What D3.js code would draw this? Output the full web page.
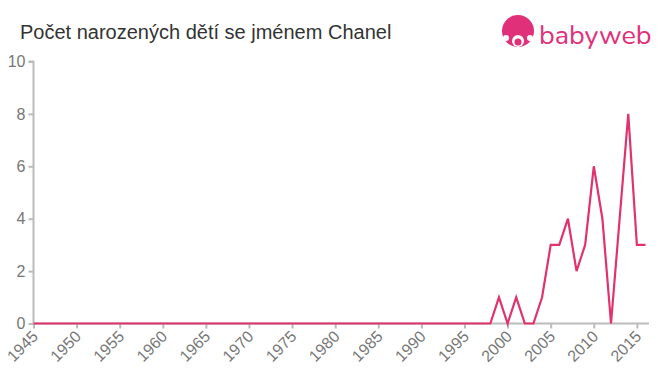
<!DOCTYPE html>
<html><head><meta charset="utf-8">
<script src="https://cdn.jsdelivr.net/npm/d3@7"></script>
<style>body{margin:0;background:#fff}svg{display:block}</style>
</head><body>
<svg id="c" width="660" height="375"></svg>
<script>
const years = d3.range(1945, 2017);
const nonZero = {1999:1,2001:1,2004:1,2005:3,2006:3,2007:4,2008:2,2009:3,2010:6,2011:4,2013:4,2014:8,2015:3,2016:3};
const values = years.map(y => nonZero[y] || 0);
const xTicks = [1945,1950,1955,1960,1965,1970,1975,1980,1985,1990,1995,2000,2005,2010,2015];
const yTicks = [0,2,4,6,8,10];
const title = "Počet narozených dětí se jménem Chanel";

const svg = d3.select("#c");
const x = d3.scaleLinear().domain([1945, 2016]).range([33.5, 645.5]);
const y = d3.scaleLinear().domain([0, 10]).range([323.5, 61.5]);
const grey = "#bbb", txt = "#777";

svg.append("text").attr("x", 20).attr("y", 39).text(title)
  .attr("font-family", "Liberation Sans, Arial, sans-serif").attr("font-size", 20).attr("fill", "#333");

// y axis
const ya = svg.append("g").attr("transform", "translate(33.5,0)")
  .call(d3.axisLeft(y).tickValues(yTicks).tickSize(5).tickFormat(d3.format("d")));
ya.select(".domain").attr("stroke", grey).attr("stroke-width", 2).attr("d", `M-5,${y(10)}H0V${y(0)}`);
ya.selectAll(".tick line").attr("stroke", grey).attr("stroke-width", 2);
ya.selectAll(".tick text").attr("font-family", "Liberation Sans, Arial, sans-serif").attr("font-size", 16).attr("fill", txt).attr("x", -8);

// x axis
const xa = svg.append("g").attr("transform", "translate(0,323.5)")
  .call(d3.axisBottom(x).tickValues(xTicks).tickSize(5).tickFormat(d3.format("d")));
xa.select(".domain").attr("stroke", grey).attr("stroke-width", 2).attr("d", `M${x(1945)},0H${x(2016)+3.5}`);
xa.selectAll(".tick line").attr("stroke", grey).attr("stroke-width", 2);
xa.selectAll(".tick text").attr("font-family", "Liberation Sans, Arial, sans-serif").attr("font-size", 16).attr("fill", txt)
  .attr("text-anchor", "end").attr("dy", null).attr("y", 0)
  .attr("transform", "translate(5,14) rotate(-45)");

// line
const line = d3.line().x((d, i) => x(years[i])).y(d => y(d));
svg.append("path").datum(values).attr("d", line).attr("fill", "none")
  .attr("stroke", "#e0336e").attr("stroke-width", 2.2).attr("stroke-linejoin", "miter");

// logo
const logo = svg.append("g");
logo.append("circle").attr("cx", 518).attr("cy", 31).attr("r", 16).attr("fill", "#e1307a");
logo.append("circle").attr("cx", 518).attr("cy", 41).attr("r", 6).attr("fill", "#fff");
logo.append("circle").attr("cx", 518).attr("cy", 42).attr("r", 3.5).attr("fill", "#e1307a");
logo.append("circle").attr("cx", 506).attr("cy", 38).attr("r", 3).attr("fill", "#fff");
logo.append("circle").attr("cx", 530).attr("cy", 38).attr("r", 3).attr("fill", "#fff");
logo.append("text").attr("x", 539).attr("y", 44).text("babyweb")
  .attr("font-family", "Nunito, 'Open Sans', sans-serif").attr("font-size", 27).attr("fill", "#e1307a");
</script>
</body></html>
